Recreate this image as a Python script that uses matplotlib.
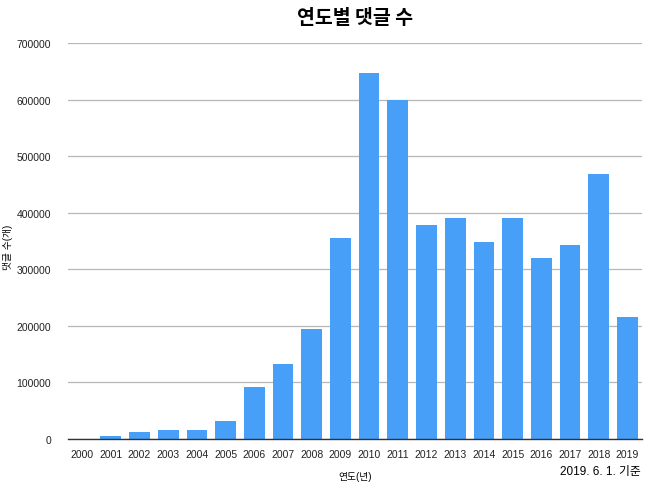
import numpy as np
import matplotlib
matplotlib.use("Agg")
from matplotlib import pyplot as plt

plt.rcParams['font.family'] = ['Liberation Sans', 'Noto Sans CJK KR']

# 연도별 댓글 수 (2019. 6. 1. 기준)
years = [str(y) for y in range(2000, 2020)]
comments = [500, 5300, 12900, 16500, 16500, 32400, 92000, 132600, 194700, 355000,
            647000, 600000, 378800, 391000, 347800, 391000, 319500, 344000, 469000, 216000]
yticks = [0, 100000, 200000, 300000, 400000, 500000, 600000, 700000]

fig = plt.figure(figsize=(6.45, 4.85), dpi=100)
ax = fig.add_axes([0.105, 0.0928, 0.89, 0.816])

x = np.arange(len(years))
ax.bar(x, comments, width=0.72, color='#479ff8', zorder=3)

ax.set_xlim(-0.5, len(years) - 0.5)
ax.set_ylim(0, 700000)
ax.set_yticks(yticks)
ax.set_yticklabels([str(v) for v in yticks], fontsize=7.5, color='#222222')
ax.set_xticks(x)
ax.set_xticklabels(years, fontsize=7.5, color='#222222')
ax.tick_params(axis='both', length=0)
ax.tick_params(axis='y', pad=12)
ax.tick_params(axis='x', pad=7)

ax.grid(axis='y', color='#b7b7b7', linewidth=0.9, zorder=0)
for s in ['top', 'right', 'left']:
    ax.spines[s].set_visible(False)
ax.spines['bottom'].set_color('#333333')
ax.spines['bottom'].set_linewidth(1.0)
ax.spines['bottom'].set_zorder(4)

fig.text(0.55, 0.961, '연도별 댓글 수', ha='center', va='center', fontsize=14,
         fontweight='bold', family=['Noto Sans CJK KR', 'DejaVu Sans'])
fig.text(0.55, 0.017, '연도(년)', ha='center', va='center', fontsize=7)
fig.text(0.013, 0.49, '댓글 수(개)', ha='center', va='center', fontsize=7, rotation=90)
fig.text(0.993, 0.027, '2019. 6. 1. 기준', ha='right', va='center', fontsize=8.5)

fig.savefig('out.png', dpi=100)
